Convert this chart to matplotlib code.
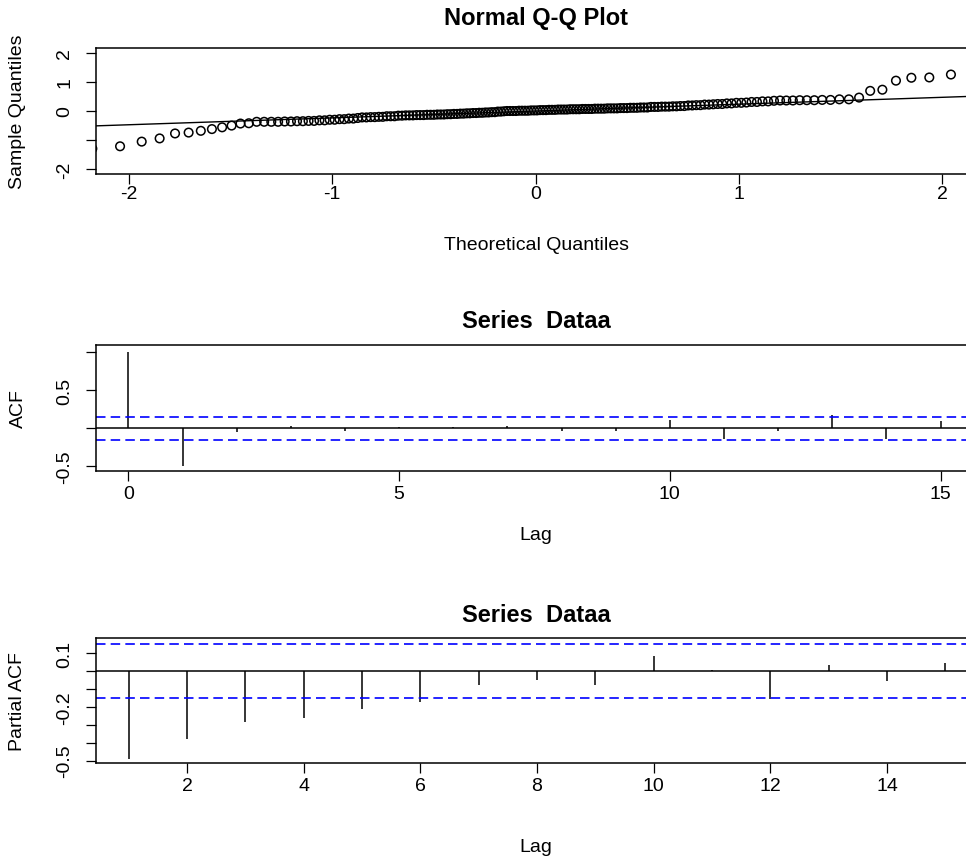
import numpy as np
import matplotlib.pyplot as plt
from statistics import NormalDist

plt.rcParams['font.family'] = ['Liberation Sans', 'DejaVu Sans']
plt.rcParams['axes.unicode_minus'] = False

W, H = 966, 862

# sorted sample values of Dataa, stored as level / repeat count
qq_levels = [-1.62, -1.41, -1.29, -1.21, -1.05, -0.94, -0.77, -0.74, -0.68, -0.62,
             -0.56, -0.50, -0.43, -0.42, -0.37, -0.36, -0.35, -0.34, -0.32, -0.30,
             -0.28, -0.26, -0.24, -0.22, -0.21, -0.20, -0.18, -0.16, -0.15, -0.14,
             -0.13, -0.12, -0.11, -0.10, -0.09, -0.08, -0.07, -0.06, -0.05, -0.04,
             -0.02, -0.01, 0.00, 0.01, 0.02, 0.03, 0.04, 0.05, 0.06, 0.07,
             0.08, 0.09, 0.10, 0.11, 0.12, 0.14, 0.15, 0.16, 0.17, 0.19,
             0.20, 0.22, 0.23, 0.24, 0.26, 0.28, 0.29, 0.31, 0.33, 0.35,
             0.36, 0.37, 0.38, 0.40, 0.46, 0.69, 0.73, 1.04, 1.14, 1.15,
             1.25, 1.52, 1.84, 2.31]
qq_counts = [1, 1, 1, 1, 1, 1, 1, 1, 1, 1,
             1, 1, 1, 1, 4, 2, 2, 2, 2, 2,
             2, 2, 1, 2, 2, 2, 3, 2, 3, 3,
             3, 3, 2, 2, 2, 2, 2, 2, 2, 2,
             2, 1, 4, 4, 3, 3, 3, 4, 4, 4,
             4, 4, 3, 3, 3, 3, 3, 2, 2, 2,
             2, 2, 1, 2, 2, 2, 1, 2, 2, 1,
             3, 3, 2, 2, 1, 1, 1, 1, 1, 1,
             1, 1, 1, 1]

acf_lags = np.arange(0, 16)
acf_vals = [1.0, -0.49, -0.05, 0.03, -0.03, 0.01, 0.01, 0.03,
            -0.03, -0.035, 0.11, -0.14, -0.04, 0.17, -0.14, 0.09]

pacf_lags = np.arange(1, 16)
pacf_vals = [-0.49, -0.378, -0.285, -0.263, -0.21, -0.17, -0.077, -0.047,
             -0.077, 0.087, 0.005, -0.155, 0.037, -0.056, 0.046]

sample = np.repeat(qq_levels, qq_counts)
n = len(sample)
nd = NormalDist()
theo = np.array([nd.inv_cdf((i - 0.5) / n) for i in range(1, n + 1)])
ci = 1.96 / np.sqrt(n)

fig = plt.figure(figsize=(W / 100, H / 100), dpi=100)


def panel(left, top, right, bottom):
    ax = fig.add_axes([left / W, 1 - bottom / H, (right - left) / W, (bottom - top) / H])
    for s in ax.spines.values():
        s.set_linewidth(1.1)
    ax.tick_params(direction='out', length=7.2, width=0.9, labelsize=14, color='black')
    ax.tick_params(axis='y', labelrotation=90, pad=9)
    ax.tick_params(axis='x', pad=3)
    return ax


# Normal Q-Q plot
ax1 = panel(96, 49, 975, 175)
ax1.scatter(theo, sample, s=38, facecolors='none', edgecolors='black', linewidths=1.1)
q1, q3 = np.quantile(sample, [0.25, 0.75])
x1, x3 = nd.inv_cdf(0.25), nd.inv_cdf(0.75)
slope = (q3 - q1) / (x3 - x1)
ax1.axline((0, q1 - slope * x1), slope=slope, color='black', lw=1.0)
ax1.set_xlim(-2.16, 2.16)
ax1.set_ylim(-2.16, 2.16)
ax1.set_xticks([-2, -1, 0, 1, 2])
ax1.set_xticklabels(['-2', '-1', '0', '1', '2'])
ax1.set_yticks([-2, -1, 0, 1, 2])
ax1.set_yticklabels(['-2', '', '0', '1', '2'], va='center')
ax1.tick_params(axis='x', pad=1)

# ACF
ax2 = panel(96, 346, 973, 472)
ax2.vlines(acf_lags, 0, acf_vals, color='black', lw=1.1)
ax2.axhline(0, color='black', lw=1.1)
for c in (ci, -ci):
    ax2.axhline(c, color='#0000FF', lw=1.2, linestyle=(0, (5.7, 3.1)))
ax2.set_xlim(-0.6, 15.6)
ax2.set_ylim(-0.56, 1.09)
ax2.set_xticks([0, 5, 10, 15])
ax2.set_yticks([-0.5, 0, 0.5, 1.0])
ax2.set_yticklabels(['-0.5', '', '0.5', ''], va='center')

# PACF
ax3 = panel(96, 639, 978, 764)
ax3.vlines(pacf_lags, 0, pacf_vals, color='black', lw=1.1)
ax3.axhline(0, color='black', lw=1.1)
for c in (ci, -ci):
    ax3.axhline(c, color='#0000FF', lw=1.2, linestyle=(0, (5.7, 3.1)))
ax3.set_xlim(0.44, 15.56)
ax3.set_ylim(-0.514, 0.186)
ax3.set_xticks(np.arange(2, 16, 2))
ax3.set_yticks([-0.5, -0.4, -0.3, -0.2, -0.1, 0.0, 0.1])
ax3.set_yticklabels(['-0.5', '', '', '-0.2', '', '', '0.1'], va='center')

# titles and axis labels
fig.text(536 / W, 1 - 18 / H, 'Normal Q-Q Plot', fontsize=17, weight='bold', ha='center', va='center')
fig.text(536 / W, 1 - 322 / H, 'Series  Dataa', fontsize=17, weight='bold', ha='center', va='center')
fig.text(536 / W, 1 - 616 / H, 'Series  Dataa', fontsize=17, weight='bold', ha='center', va='center')
fig.text(536 / W, 1 - 245 / H, 'Theoretical Quantiles', fontsize=14, ha='center', va='center')
fig.text(536 / W, 1 - 535 / H, 'Lag', fontsize=14, ha='center', va='center')
fig.text(536 / W, 1 - 848 / H, 'Lag', fontsize=14, ha='center', va='center')
fig.text(18 / W, 1 - 112 / H, 'Sample Quantiles', fontsize=14, rotation=90, ha='center', va='center')
fig.text(18 / W, 1 - 409 / H, 'ACF', fontsize=14, rotation=90, ha='center', va='center')
fig.text(18 / W, 1 - 702 / H, 'Partial ACF', fontsize=14, rotation=90, ha='center', va='center')

fig.savefig('out.png', dpi=100)
